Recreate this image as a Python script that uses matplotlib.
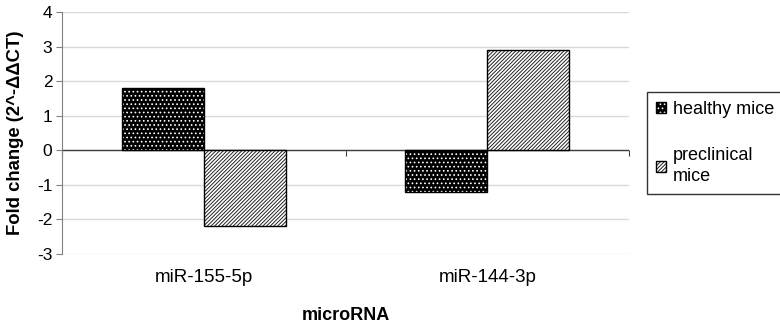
import numpy as np
import matplotlib.pyplot as plt

categories = ["miR-155-5p", "miR-144-3p"]
healthy = [1.8, -1.2]
preclinical = [-2.2, 2.9]
series_labels = ["healthy mice", "preclinical\nmice"]
y_ticks = [-3, -2, -1, 0, 1, 2, 3, 4]

plt.rcParams["font.family"] = ["Liberation Sans", "DejaVu Sans"]
plt.rcParams["hatch.linewidth"] = 0.7
plt.rcParams["axes.unicode_minus"] = False

fig = plt.figure(figsize=(7.8, 3.28), dpi=100)
ax = fig.add_axes([0.0795, 0.2256, 0.7269, 0.7378])

x = np.arange(len(categories))
w = 0.29

# healthy: black fill with white dots, drawn as fill + outline
h_fill = ax.bar(x - w / 2, healthy, w, color="black", edgecolor="white",
                hatch="....", linewidth=0, zorder=3)
h_edge = ax.bar(x - w / 2, healthy, w, fill=False, edgecolor="black",
                linewidth=1, zorder=4)
# preclinical: white with dense diagonal lines
p_fill = ax.bar(x + w / 2, preclinical, w, color="white", edgecolor="#222222",
                hatch="/////////", linewidth=0, zorder=3)
p_edge = ax.bar(x + w / 2, preclinical, w, fill=False, edgecolor="black",
                linewidth=1, zorder=4)

ax.set_xlim(-0.5, len(categories) - 0.5)
ax.set_ylim(y_ticks[0], y_ticks[-1])
ax.set_yticks(y_ticks)
ax.yaxis.grid(True, color="#d9d9d9", linewidth=1)
ax.set_axisbelow(True)
ax.axhline(0, color="#404040", linewidth=1, zorder=2.5)

for s in ["top", "right", "bottom"]:
    ax.spines[s].set_visible(False)
ax.spines["left"].set_color("#808080")
ax.tick_params(axis="y", direction="out", length=4, color="#808080",
               labelsize=12.5, pad=3)
ax.set_xticks(x, categories)
ax.tick_params(axis="x", length=0, labelsize=13.5, pad=11)

# tick marks between categories on the zero line
zero = (0 - y_ticks[0]) / (y_ticks[-1] - y_ticks[0])
sec = ax.secondary_xaxis(zero)
sec.set_xticks(np.arange(len(categories) + 1) - 0.5)
sec.tick_params(axis="x", direction="out", length=4, color="#404040",
                labelbottom=False)
sec.spines["bottom"].set_visible(False)

ax.set_ylabel("Fold change (2^-\u0394\u0394CT)", fontsize=13.3,
              fontweight="bold", labelpad=9)
ax.set_xlabel("microRNA", fontsize=13, fontweight="bold", labelpad=15)

leg = fig.legend([(h_fill, h_edge), (p_fill, p_edge)], series_labels,
                 loc="upper left", bbox_to_anchor=(0.829, 0.72),
                 fontsize=13, frameon=True, fancybox=False,
                 edgecolor="black", handlelength=0.55, handleheight=0.55,
                 handletextpad=0.4, labelspacing=1.6, borderpad=0.5,
                 borderaxespad=0)
leg.get_frame().set_linewidth(1)
for t in leg.get_texts():
    t.set_linespacing(1.35)

fig.savefig("out.png", dpi=100)
